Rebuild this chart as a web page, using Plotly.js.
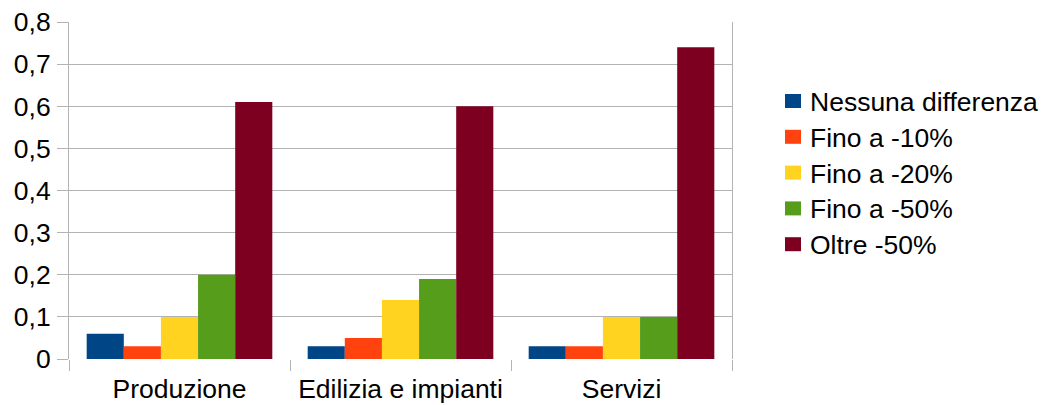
<!DOCTYPE html>
<html>
<head>
<meta charset="utf-8">
<script src="https://cdn.plot.ly/plotly-3.0.1.min.js"></script>
<style>html,body{margin:0;padding:0;background:#fff;}#chart{width:1042px;height:405px;}</style>
</head>
<body>
<div id="chart"></div>
<script>
const categories = ["Produzione", "Edilizia e impianti", "Servizi"];
const seriesNames = ["Nessuna differenza", "Fino a -10%", "Fino a -20%", "Fino a -50%", "Oltre -50%"];
const nessunaDifferenza = [0.06, 0.03, 0.03];
const finoA10 = [0.03, 0.05, 0.03];
const finoA20 = [0.10, 0.14, 0.10];
const finoA50 = [0.20, 0.19, 0.10];
const oltre50 = [0.61, 0.60, 0.74];
const colors = ["#004586", "#ff420e", "#ffd320", "#579d1c", "#7e0021"];

const seriesValues = [nessunaDifferenza, finoA10, finoA20, finoA50, oltre50];
const traces = seriesValues.map((vals, i) => ({
  type: "bar",
  name: seriesNames[i],
  x: categories,
  y: vals,
  marker: {color: colors[i], line: {width: 0}},
  hoverinfo: "skip"
}));

const W = 1042, H = 405;
const M = {l: 69, r: 310, t: 22, b: 46};
const pw = W - M.l - M.r, ph = H - M.t - M.b;
const px2x = px => (px - M.l) / pw;
const py2y = py => (H - M.b - py) / ph;

const font = {family: "Liberation Sans, Arial, sans-serif", size: 26.5, color: "#000"};

// manual legend
const shapes = [];
const annotations = [];
seriesNames.forEach((name, i) => {
  const cy = 101 + i * 35.8;
  shapes.push({
    type: "rect", xref: "paper", yref: "paper",
    x0: px2x(785), x1: px2x(801), y0: py2y(cy - 7), y1: py2y(cy + 7),
    fillcolor: colors[i], line: {width: 0}
  });
  annotations.push({
    xref: "paper", yref: "paper", x: px2x(808), y: py2y(cy + 1),
    xanchor: "left", yanchor: "middle", showarrow: false,
    text: name, font: font
  });
});

const layout = {
  width: W,
  height: H,
  margin: {l: M.l, r: M.r, t: M.t, b: M.b, pad: 0, autoexpand: false},
  paper_bgcolor: "#fff",
  plot_bgcolor: "#fff",
  separators: ",.",
  font: font,
  barmode: "group",
  bargap: 0.16,
  bargroupgap: 0,
  showlegend: false,
  shapes: shapes,
  annotations: annotations,
  xaxis: {
    type: "category",
    showgrid: false,
    zeroline: false,
    showline: false,
    ticks: "outside",
    tickson: "boundaries",
    ticklen: 11,
    tickcolor: "#b3b3b3",
    tickwidth: 1,
    tickfont: font,
    ticklabelstandoff: 11,
    automargin: false
  },
  yaxis: {
    range: [0, 0.8],
    dtick: 0.1,
    tick0: 0,
    showgrid: true,
    gridcolor: "#b3b3b3",
    gridwidth: 1,
    zeroline: false,
    showline: true,
    mirror: true,
    linecolor: "#b3b3b3",
    linewidth: 1,
    ticks: "outside",
    ticklen: 11,
    tickcolor: "#b3b3b3",
    tickfont: font,
    ticklabelstandoff: 1,
    automargin: false
  }
};

Plotly.newPlot("chart", traces, layout, {staticPlot: true, displayModeBar: false});
</script>
</body>
</html>
